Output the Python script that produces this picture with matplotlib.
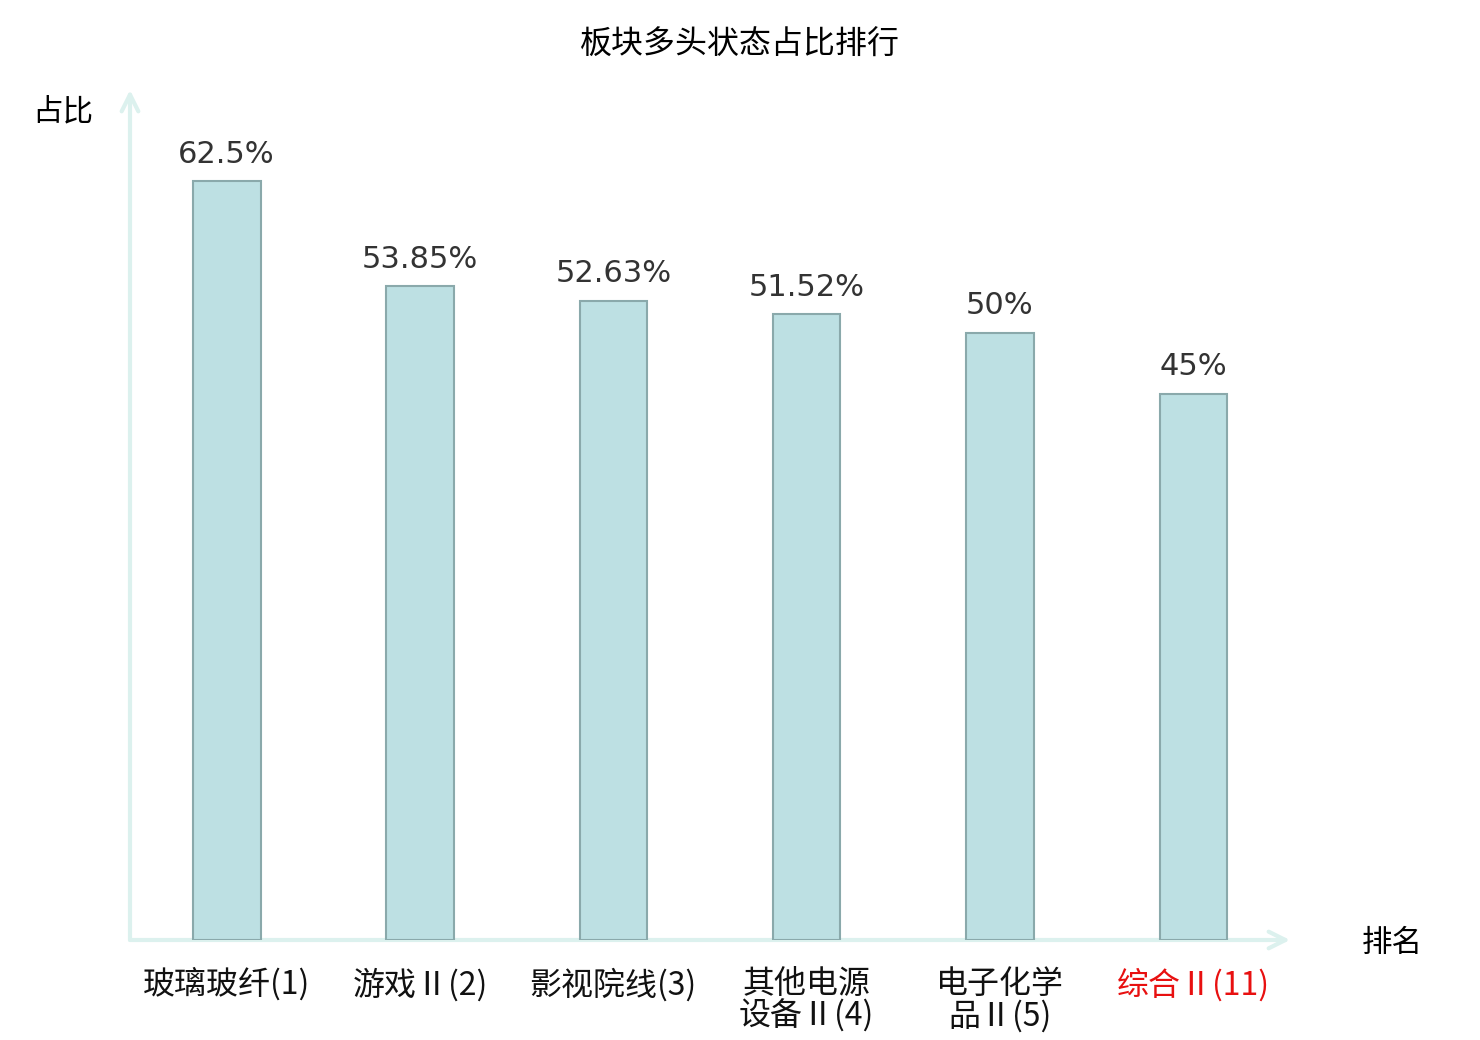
import matplotlib
matplotlib.use('Agg')
import matplotlib.pyplot as plt

plt.rcParams['font.family'] = ['Noto Sans CJK SC', 'DejaVu Sans']

# data
categories = ['玻璃玻纤(1)', '游戏Ⅱ(2)', '影视院线(3)', '其他电源\n设备Ⅱ(4)', '电子化学\n品Ⅱ(5)', '综合Ⅱ(11)']
values = [62.5, 53.85, 52.63, 51.52, 50, 45]
value_labels = ['62.5%', '53.85%', '52.63%', '51.52%', '50%', '45%']
label_colors = ['#111111', '#111111', '#111111', '#111111', '#111111', '#e81010']

axis_color = '#dcf1ee'

fig = plt.figure(figsize=(14.8, 10.4), dpi=100)
ax = fig.add_axes([130 / 1480, 100 / 1040, 1160 / 1480, 850 / 1040])

x = list(range(len(values)))
ax.bar(x, values, width=0.35, color='#bde0e3', edgecolor='#8aa9ab', linewidth=1.5, zorder=2)

for xi, v, lab in zip(x, values, value_labels):
    ax.annotate(lab, (xi, v), xytext=(0, 9), textcoords='offset points',
                ha='center', va='bottom', fontsize=22, color='#333333',
                family='DejaVu Sans')

ax.set_xlim(-0.5, 5.5)
ax.set_ylim(0, 70)
ax.set_yticks([])
ax.set_xticks(x)
ax.set_xticklabels(categories, fontsize=23, linespacing=1.0, va='top')
for t, c in zip(ax.get_xticklabels(), label_colors):
    t.set_color(c)
ax.tick_params(axis='x', length=0, pad=20)

for s in ax.spines.values():
    s.set_visible(False)

# arrow axes
ax.annotate('', xy=(0, 1.0), xytext=(0, 0), xycoords='axes fraction',
            arrowprops=dict(arrowstyle='->', color=axis_color, lw=3,
                            mutation_scale=30, shrinkA=0, shrinkB=0), zorder=1)
ax.annotate('', xy=(1.0, 0), xytext=(0, 0), xycoords='axes fraction',
            arrowprops=dict(arrowstyle='->', color=axis_color, lw=3,
                            mutation_scale=30, shrinkA=0, shrinkB=0), zorder=1)

fig.text(63 / 1480, 1 - 112 / 1040, '占比', fontsize=22, ha='center', va='center')
fig.text(1392 / 1480, 1 - 943 / 1040, '排名', fontsize=22, ha='center', va='center')
fig.text(740 / 1480, 1 - 45 / 1040, '板块多头状态占比排行', fontsize=23, ha='center', va='center')

fig.savefig('out.png', dpi=100)
